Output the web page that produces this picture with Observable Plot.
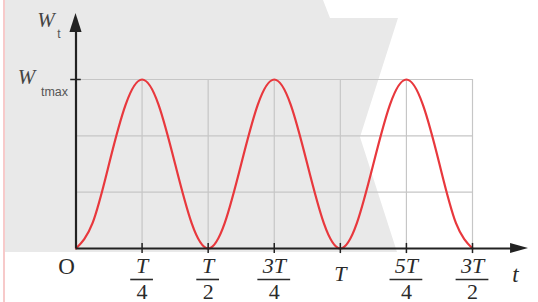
<!DOCTYPE html>
<html>
<head>
<meta charset="utf-8">
<script src="https://cdn.jsdelivr.net/npm/d3@7"></script>
<script src="https://cdn.jsdelivr.net/npm/@observablehq/plot@0.6"></script>
<style>
html, body { margin: 0; padding: 0; background: #fff; overflow: hidden; }
#wrap { position: relative; width: 538px; height: 302px; }
#wm { position: absolute; left: 5px; top: 0; width: 533px; height: 302px; background: #e9e9e9;
      clip-path: polygon(0px 0px, 318px 0px, 325px 18px, 393px 18px, 355px 137px, 392px 252px, 0px 252px); }
#pink { position: absolute; left: 3px; top: 0; width: 2px; height: 302px; background: #f7caca; }
#chart { position: absolute; left: 0; top: 0; }
#chart text.serif { font-family: "Liberation Serif", "Times New Roman", serif; }
</style>
</head>
<body>
<div id="wrap"><div id="wm"></div><div id="pink"></div><div id="chart"></div></div>
<script>
// time in units of T, energy in units of Wtmax
const tickT   = [0.25, 0.5, 0.75, 1, 1.25, 1.5];
const tickNum = ["T", "T", "3T", "T", "5T", "3T"];
const tickDen = ["4", "2", "4", "", "4", "2"];
const gridLevels = [1/3, 2/3, 1];

const curveT = [0, 0.0625, 0.125, 0.1875, 0.25, 0.3125, 0.375, 0.4375, 0.5,
                0.5625, 0.625, 0.6875, 0.75, 0.8125, 0.875, 0.9375, 1,
                1.0625, 1.125, 1.1875, 1.25, 1.3125, 1.375, 1.4375, 1.5];
const curveW = [0, 0.15, 0.5, 0.85, 1, 0.85, 0.5, 0.15, 0,
                0.15, 0.5, 0.85, 1, 0.85, 0.5, 0.15, 0,
                0.15, 0.5, 0.85, 1, 0.85, 0.5, 0.15, 0];

const xAxisEnd = 1.712, yAxisEnd = 1.39;

const curve = curveT.map((t, i) => ({t, w: curveW[i]}));
const ticks = tickT.map((t, i) => ({t, num: tickNum[i], den: tickDen[i], bw: tickNum[i].length > 1 ? 0.062 : 0.043}));
const fracs = ticks.filter(d => d.den !== "");
const plain = ticks.filter(d => d.den === "");

const AX = "#222";
const TXT = "#2a2a2a";
const serif = "'Liberation Serif', 'Times New Roman', serif";
const sans = "'Liberation Sans', Arial, sans-serif";

const chart = Plot.plot({
  width: 538,
  height: 302,
  style: {background: "transparent", overflow: "visible"},
  x: {domain: [0, 1.5], range: [75.5, 472], axis: null},
  y: {domain: [0, 1], range: [248, 79], axis: null},
  marks: [
    Plot.ruleY(gridLevels, {x1: 0, x2: 1.5, stroke: "#c6c6c6", strokeWidth: 1.2}),
    Plot.ruleX(tickT, {y1: 0, y2: 1, stroke: "#c6c6c6", strokeWidth: 1.2}),
    Plot.line(curve, {x: "t", y: "w", curve: "natural", stroke: "#e8383d", strokeWidth: 2.2}),
    // axes
    Plot.ruleY([0], {x1: 0, x2: xAxisEnd - 0.06, stroke: AX, strokeWidth: 2.2}),
    Plot.ruleX([0], {y1: 0, y2: yAxisEnd - 0.1, stroke: AX, strokeWidth: 2.2}),
    Plot.areaY([{x: xAxisEnd - 0.068, a: -0.03, b: 0.03}, {x: xAxisEnd, a: 0, b: 0}],
      {x: "x", y1: "a", y2: "b", fill: AX}),
    Plot.areaX([{y: yAxisEnd - 0.112, a: -0.023, b: 0.023}, {y: yAxisEnd, a: 0, b: 0}],
      {y: "y", x1: "a", x2: "b", fill: AX}),
    // tick marks
    Plot.ruleX(tickT, {y1: -0.03, y2: 0.03, stroke: AX, strokeWidth: 1.5}),
    Plot.ruleY([1], {x1: -0.02, x2: 0.02, stroke: AX, strokeWidth: 1.5}),
    // tick labels (fractions)
    Plot.text(fracs, {x: "t", y: 0, text: "num", dy: 17.5, fontSize: 22, fontFamily: serif, fontStyle: "italic", fill: TXT, className: "serif"}),
    Plot.ruleY(fracs, {y: 0, x1: d => d.t - d.bw, x2: d => d.t + d.bw, dy: 31, stroke: TXT, strokeWidth: 1.6}),
    Plot.text(fracs, {x: "t", y: 0, text: "den", dy: 43, fontSize: 22, fontFamily: serif, fill: TXT, className: "serif"}),
    Plot.text(plain, {x: "t", y: 0, text: "num", dy: 25, fontSize: 22, fontFamily: serif, fontStyle: "italic", fill: TXT, className: "serif"}),
    // origin and axis labels
    Plot.text(["O"], {x: 0, y: 0, text: d => d, dx: -9.5, dy: 18.5, fontSize: 23, fontFamily: serif, fill: TXT, className: "serif"}),
    Plot.text(["t"], {x: 1.5, y: 0, text: d => d, dx: 43, dy: 26, fontSize: 23, fontFamily: serif, fontStyle: "italic", fill: TXT, className: "serif"}),
    Plot.text(["W"], {x: 0, y: 1, text: d => d, dx: -30, dy: -59, fontSize: 21, fontFamily: serif, fontStyle: "italic", fill: "#444", className: "serif"}),
    Plot.text(["t"], {x: 0, y: 1, text: d => d, dx: -17, dy: -45.5, fontSize: 12, fontFamily: sans, fill: "#555"}),
    Plot.text(["W"], {x: 0, y: 1, text: d => d, dx: -49.5, dy: -2.5, fontSize: 21, fontFamily: serif, fontStyle: "italic", fill: "#444", className: "serif"}),
    Plot.text(["tmax"], {x: 0, y: 1, text: d => d, dx: -21.5, dy: 12, fontSize: 12.5, fontFamily: sans, fill: "#555"})
  ]
});
document.getElementById("chart").appendChild(chart);
</script>
</body>
</html>
